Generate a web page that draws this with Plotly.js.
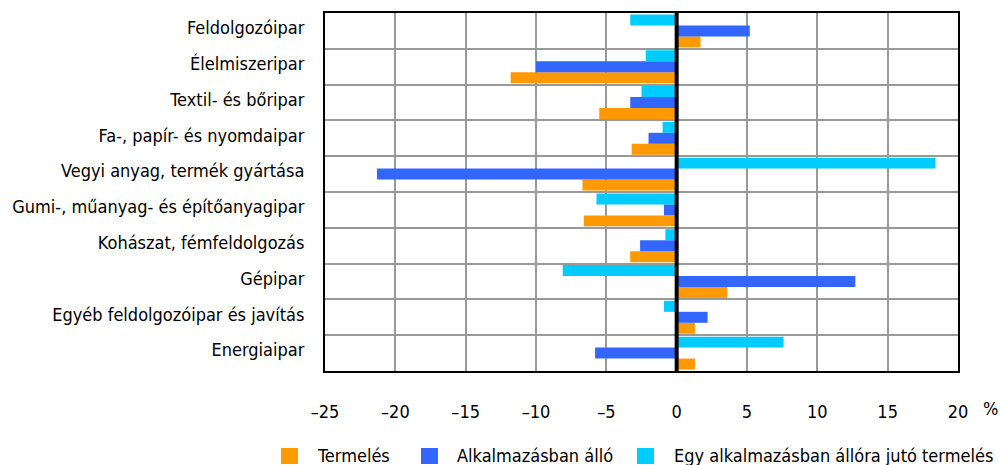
<!DOCTYPE html>
<html>
<head>
<meta charset="utf-8">
<script src="https://cdn.plot.ly/plotly-3.0.1.min.js"></script>
<style>html,body{margin:0;padding:0;background:#fff;}#chart{width:1001px;height:465px;}</style>
</head>
<body>
<div id="chart"></div>
<script>
var categories = [
  "Feldolgozóipar",
  "Élelmiszeripar",
  "Textil- és bőripar",
  "Fa-, papír- és nyomdaipar",
  "Vegyi anyag, termék gyártása",
  "Gumi-, műanyag- és építőanyagipar",
  "Kohászat, fémfeldolgozás",
  "Gépipar",
  "Egyéb feldolgozóipar és javítás",
  "Energiaipar"
];
var termeles    = [1.7, -11.8, -5.5, -3.2, -6.7, -6.6, -3.3, 3.6, 1.3, 1.3];
var alkalmazott = [5.2, -10.0, -3.3, -2.0, -21.3, -0.9, -2.6, 12.7, 2.2, -5.8];
var jutoTermeles = [-3.3, -2.2, -2.5, -1.0, 18.4, -5.7, -0.8, -8.1, -0.9, 7.6];
var seriesNames = ["Termelés", "Alkalmazásban álló", "Egy alkalmazásban állóra jutó termelés"];
var xTickVals = [-25, -20, -15, -10, -5, 0, 5, 10, 15, 20];
var xTickText = ["–25", "–20", "–15", "–10", "–5", "0", "5", "10", "15", "20"];

var FONT = "'DejaVu Sans Condensed', 'Liberation Sans Narrow', 'Arial Narrow', sans-serif";
var FS = 18;
var colors = ["#FF9900", "#3366FF", "#00CCFF"];
var vals = [termeles, alkalmazott, jutoTermeles];

var traces = vals.map(function (v, i) {
  return {
    type: "bar",
    orientation: "h",
    name: seriesNames[i],
    x: v,
    y: categories,
    marker: { color: colors[i], line: { width: 0 } },
    showlegend: false,
    hoverinfo: "x+y"
  };
});

// plot-area geometry (pixels) used for the hand-drawn legend placement
var L = 325, T = 13, W = 633, H = 358;
function px2x(p) { return (p - L) / W; }
function px2y(p) { return (T + H - p) / H; }

var legendSquareLeft = [281, 421, 637];
var legendTextLeft = [315, 455, 672];
var legendY = 455.5;

var shapes = [{
  type: "line", xref: "x", yref: "paper",
  x0: 0, x1: 0, y0: 0, y1: 1,
  line: { color: "#000", width: 4 },
  layer: "above"
}];
var annotations = [{
  text: "%", xref: "paper", yref: "paper",
  x: px2x(990), y: px2y(408.5), xanchor: "center", yanchor: "middle",
  showarrow: false,
  font: { family: FONT, size: FS, color: "#000" }
}];
seriesNames.forEach(function (name, i) {
  shapes.push({
    type: "rect", xref: "paper", yref: "paper",
    x0: px2x(legendSquareLeft[i]), x1: px2x(legendSquareLeft[i] + 17),
    y0: px2y(448), y1: px2y(464),
    fillcolor: colors[i], line: { width: 0 }
  });
  annotations.push({
    text: name, xref: "paper", yref: "paper",
    x: px2x(legendTextLeft[i]), y: px2y(legendY),
    xanchor: "left", yanchor: "middle", showarrow: false,
    font: { family: FONT, size: FS, color: "#000" }
  });
});

var layout = {
  width: 1001,
  height: 465,
  margin: { l: L, r: 1001 - L - W, t: T, b: 465 - T - H },
  paper_bgcolor: "#fff",
  plot_bgcolor: "#fff",
  font: { family: FONT, size: FS, color: "#000" },
  barmode: "group",
  bargap: 0.08,
  bargroupgap: 0,
  showlegend: false,
  xaxis: {
    range: [-25, 20],
    tickvals: xTickVals,
    ticktext: xTickText,
    showgrid: true,
    gridcolor: "#999999",
    gridwidth: 2,
    zeroline: false,
    showline: true,
    mirror: true,
    linecolor: "#000",
    linewidth: 2,
    ticks: "",
    ticklabelstandoff: 23,
    tickfont: { family: FONT, size: FS, color: "#000" },
    fixedrange: true
  },
  yaxis: {
    type: "category",
    categoryorder: "array",
    categoryarray: categories.slice().reverse(),
    tickson: "boundaries",
    showgrid: true,
    gridcolor: "#999999",
    gridwidth: 2,
    showline: true,
    mirror: true,
    linecolor: "#000",
    linewidth: 2,
    ticks: "",
    ticklabelstandoff: 15,
    ticklabelshift: -3,
    tickfont: { family: FONT, size: FS, color: "#000" },
    fixedrange: true
  },
  shapes: shapes,
  annotations: annotations
};

Plotly.newPlot("chart", traces, layout, { displayModeBar: false, staticPlot: true });
</script>
</body>
</html>
